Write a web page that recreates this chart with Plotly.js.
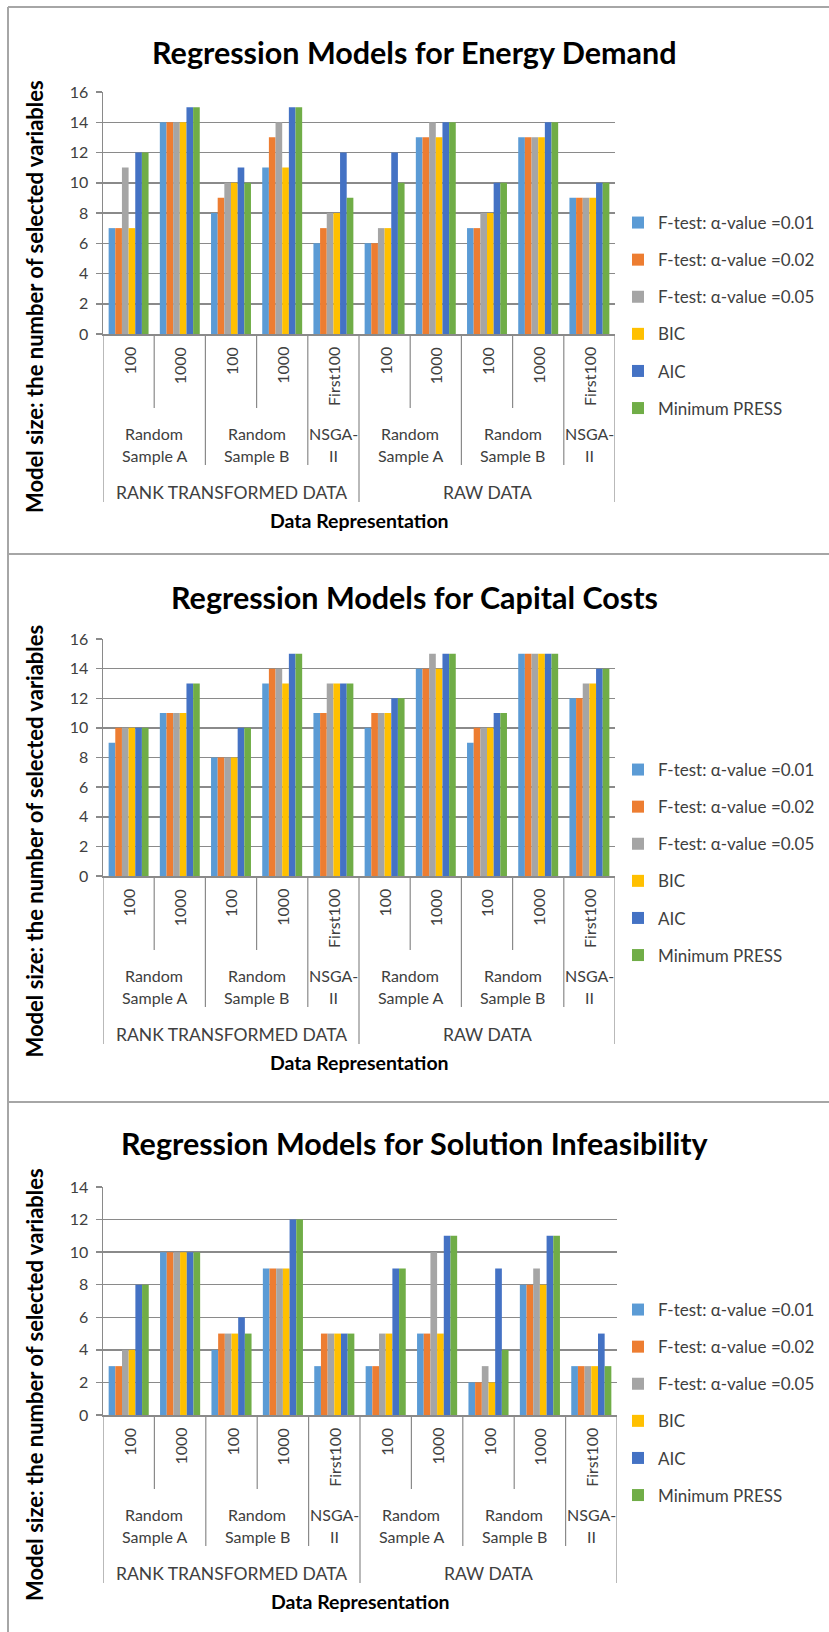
<!DOCTYPE html>
<html>
<head>
<meta charset="utf-8">
<script src="https://cdn.plot.ly/plotly-3.0.1.min.js"></script>
<style>
  html, body { margin: 0; padding: 0; background: #ffffff; }
  #chart { width: 829px; height: 1632px; }
</style>
</head>
<body>
<div id="chart"></div>
<script>
// ---------------- DATA ----------------
const seriesNames = ['F-test: α-value =0.01', 'F-test: α-value =0.02', 'F-test: α-value =0.05', 'BIC', 'AIC', 'Minimum PRESS'];
const sizeLabels = ['100', '1000', '100', '1000', 'First100', '100', '1000', '100', '1000', 'First100'];
const sampleLabels = [['Random', 'Sample A'], ['Random', 'Sample B'], ['NSGA-', 'II'], ['Random', 'Sample A'], ['Random', 'Sample B'], ['NSGA-', 'II']];
const sampleSpans = [2, 2, 1, 2, 2, 1];
const dataLabels = ['RANK TRANSFORMED DATA', 'RAW DATA'];
const dataSpans = [5, 5];
const chartTitles = ['Regression Models for Energy Demand', 'Regression Models for Capital Costs', 'Regression Models for Solution Infeasibility'];
const xAxisTitle = 'Data Representation';
const yAxisTitle = 'Model size: the number of selected variables';

const energyF001  = [7, 14, 8, 11, 6, 6, 13, 7, 13, 9];
const energyF002  = [7, 14, 9, 13, 7, 6, 13, 7, 13, 9];
const energyF005  = [11, 14, 10, 14, 8, 7, 14, 8, 13, 9];
const energyBIC   = [7, 14, 10, 11, 8, 7, 13, 8, 13, 9];
const energyAIC   = [12, 15, 11, 15, 12, 12, 14, 10, 14, 10];
const energyPRESS = [12, 15, 10, 15, 9, 10, 14, 10, 14, 10];

const capitalF001  = [9, 11, 8, 13, 11, 10, 14, 9, 15, 12];
const capitalF002  = [10, 11, 8, 14, 11, 11, 14, 10, 15, 12];
const capitalF005  = [10, 11, 8, 14, 13, 11, 15, 10, 15, 13];
const capitalBIC   = [10, 11, 8, 13, 13, 11, 14, 10, 15, 13];
const capitalAIC   = [10, 13, 10, 15, 13, 12, 15, 11, 15, 14];
const capitalPRESS = [10, 13, 10, 15, 13, 12, 15, 11, 15, 14];

const infeasF001  = [3, 10, 4, 9, 3, 3, 5, 2, 8, 3];
const infeasF002  = [3, 10, 5, 9, 5, 3, 5, 2, 8, 3];
const infeasF005  = [4, 10, 5, 9, 5, 5, 10, 3, 9, 3];
const infeasBIC   = [4, 10, 5, 9, 5, 5, 5, 2, 8, 3];
const infeasAIC   = [8, 10, 6, 12, 5, 9, 11, 9, 11, 5];
const infeasPRESS = [8, 10, 5, 12, 5, 9, 11, 4, 11, 3];

const yMax = [16, 16, 14];

// ---------------- STYLE / LAYOUT ----------------
const W = 829, H = 1632;
const FONT = 'Lato, Carlito, "Open Sans", sans-serif';
const colors = ['#5B9BD5', '#ED7D31', '#A5A5A5', '#FFC000', '#4472C4', '#70AD47'];
const gridColor = '#8a8a8a';
const labelColor = '#404040';

const chartSeries = [
  [energyF001, energyF002, energyF005, energyBIC, energyAIC, energyPRESS],
  [capitalF001, capitalF002, capitalF005, capitalBIC, capitalAIC, capitalPRESS],
  [infeasF001, infeasF002, infeasF005, infeasBIC, infeasAIC, infeasPRESS]
];

// panel geometry in pixels
const panels = [
  { left: 103, right: 615, top: 92,   bottom: 334,  titleY: 52,   legendTop: 205 },
  { left: 103, right: 615, top: 639,  bottom: 876,  titleY: 597,  legendTop: 752 },
  { left: 103, right: 617, top: 1187, bottom: 1415, titleY: 1143, legendTop: 1292 }
];

const px = v => v / W;
const py = v => 1 - v / H;

const traces = [];
const layout = {
  width: W, height: H,
  margin: { l: 0, r: 0, t: 0, b: 0 },
  paper_bgcolor: '#ffffff',
  plot_bgcolor: '#ffffff',
  font: { family: FONT, color: labelColor },
  barmode: 'group',
  bargap: 0.22,
  bargroupgap: 0,
  annotations: [],
  shapes: []
};

panels.forEach((p, ci) => {
  const sfx = ci === 0 ? '' : String(ci + 1);
  const xName = 'x' + sfx, yName = 'y' + sfx;
  const legendName = 'legend' + sfx;
  const xs = sizeLabels.map((_, i) => i);

  chartSeries[ci].forEach((vals, si) => {
    traces.push({
      type: 'bar',
      x: xs,
      y: vals,
      name: seriesNames[si],
      xaxis: xName,
      yaxis: yName,
      legend: legendName,
      legendgroup: 'c' + ci + 's' + si,
      marker: { color: colors[si], line: { width: 0 } },
      hoverinfo: 'skip'
    });
  });

  layout['xaxis' + sfx] = {
    domain: [px(p.left), px(p.right)],
    anchor: yName,
    range: [-0.5, sizeLabels.length - 0.5],
    showticklabels: false,
    ticks: '',
    showgrid: false,
    zeroline: false,
    showline: true,
    linecolor: gridColor,
    linewidth: 1.5,
    fixedrange: true
  };
  layout['yaxis' + sfx] = {
    domain: [py(p.bottom), py(p.top)],
    anchor: xName,
    range: [0, yMax[ci]],
    dtick: 2,
    tick0: 0,
    showgrid: true,
    gridcolor: gridColor,
    gridwidth: 1.5,
    zeroline: false,
    showline: true,
    linecolor: gridColor,
    linewidth: 1.5,
    ticks: 'outside',
    ticklen: 6,
    tickwidth: 1.5,
    tickcolor: gridColor,
    ticklabelstandoff: 4,
    tickfont: { family: FONT, size: 16, color: labelColor },
    fixedrange: true
  };
  layout[legendName] = {
    x: px(658 - 40),
    xanchor: 'left',
    y: py(p.legendTop),
    yanchor: 'top',
    traceorder: 'grouped',
    tracegroupgap: 12,
    bgcolor: 'rgba(0,0,0,0)',
    borderwidth: 0,
    font: { family: FONT, size: 17, color: labelColor },
    itemclick: false,
    itemdoubleclick: false
  };

  // title
  layout.annotations.push({
    xref: 'paper', yref: 'paper', x: px(414.5), y: py(p.titleY),
    xanchor: 'center', yanchor: 'middle', showarrow: false,
    text: '<b>' + chartTitles[ci] + '</b>',
    font: { family: FONT, size: 30.5, color: '#000000' }
  });
  // y-axis title
  layout.annotations.push({
    xref: 'paper', yref: 'paper', x: px(34), y: py((p.top + p.bottom + 168) / 2),
    xanchor: 'center', yanchor: 'middle', showarrow: false, textangle: -90,
    text: '<b>' + yAxisTitle + '</b>',
    font: { family: FONT, size: 22, color: '#000000' }
  });
  // x-axis title
  layout.annotations.push({
    xref: 'paper', yref: 'paper', x: px((p.left + p.right) / 2), y: py(p.bottom + 186),
    xanchor: 'center', yanchor: 'middle', showarrow: false,
    text: '<b>' + xAxisTitle + '</b>',
    font: { family: FONT, size: 19.5, color: '#000000' }
  });

  // level 1 labels (rotated)
  sizeLabels.forEach((lab, i) => {
    layout.annotations.push({
      xref: xName, yref: 'paper', x: i, y: py(p.bottom + 11),
      xanchor: 'center', yanchor: 'top', showarrow: false, textangle: -90,
      text: lab, font: { family: FONT, size: 16, color: labelColor }
    });
  });

  // boundaries: depth per level
  const depth = {};
  for (let i = 0; i <= sizeLabels.length; i++) depth[i] = 74;
  let acc = 0;
  depth[0] = 131;
  sampleSpans.forEach((s, k) => {
    const c = acc + (s - 1) / 2;
    sampleLabels[k].forEach((line, li) => {
      layout.annotations.push({
        xref: xName, yref: 'paper', x: c, y: py(p.bottom + 99 + li * 22),
        xanchor: 'center', yanchor: 'middle', showarrow: false,
        text: line, font: { family: FONT, size: 16, color: labelColor }
      });
    });
    acc += s;
    depth[acc] = 131;
  });
  acc = 0;
  depth[0] = 168;
  dataSpans.forEach((s, k) => {
    const c = acc + (s - 1) / 2;
    layout.annotations.push({
      xref: xName, yref: 'paper', x: c, y: py(p.bottom + 158),
      xanchor: 'center', yanchor: 'middle', showarrow: false,
      text: dataLabels[k], font: { family: FONT, size: 17.5, color: labelColor }
    });
    acc += s;
    depth[acc] = 168;
  });
  Object.keys(depth).forEach(k => {
    const b = Number(k) - 0.5;
    layout.shapes.push({
      type: 'line', xref: xName, yref: 'paper',
      x0: b, x1: b, y0: py(p.bottom), y1: py(p.bottom + depth[k]),
      line: { color: gridColor, width: 1.2 }
    });
  });
});

// panel borders
const borderColor = '#a6a6a6';
layout.shapes.push(
  { type: 'line', xref: 'paper', yref: 'paper', x0: px(8), x1: px(8), y0: py(7), y1: 0, line: { color: borderColor, width: 2 } },
  { type: 'line', xref: 'paper', yref: 'paper', x0: px(8), x1: 1, y0: py(7), y1: py(7), line: { color: borderColor, width: 2 } },
  { type: 'line', xref: 'paper', yref: 'paper', x0: px(8), x1: 1, y0: py(554), y1: py(554), line: { color: borderColor, width: 2 } },
  { type: 'line', xref: 'paper', yref: 'paper', x0: px(8), x1: 1, y0: py(1102), y1: py(1102), line: { color: borderColor, width: 2 } }
);

Plotly.newPlot('chart', traces, layout, { displayModeBar: false, staticPlot: true });
</script>
</body>
</html>
